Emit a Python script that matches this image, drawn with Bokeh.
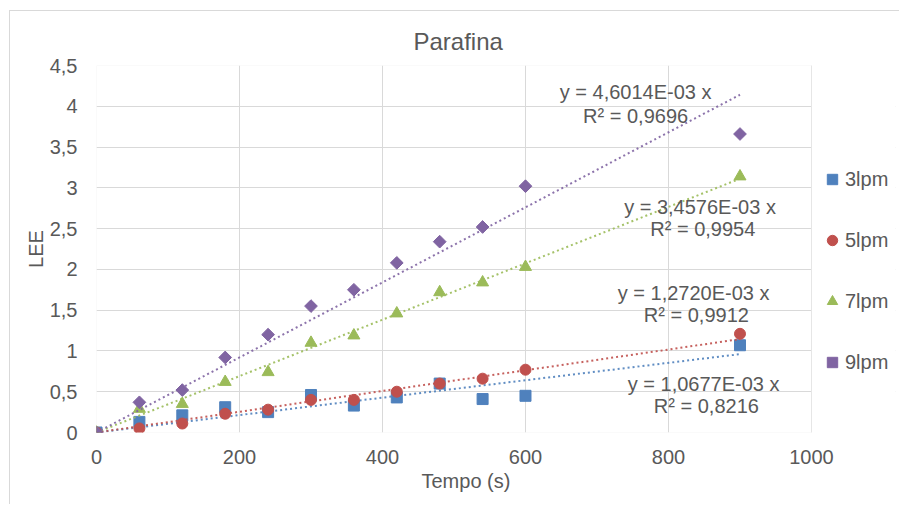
import math
from bokeh.plotting import figure
from bokeh.models import Legend, LegendItem, FixedTicker, ColumnDataSource, BoxAnnotation, Title
from bokeh.embed import file_html
from bokeh.resources import INLINE
from bokeh.core.properties import value

# ---- data ----
tempo = [0, 60, 120, 180, 240, 300, 360, 420, 480, 540, 600, 900]
lee_3lpm = [0, 0.13, 0.21, 0.31, 0.25, 0.46, 0.33, 0.43, 0.60, 0.41, 0.45, 1.07]
lee_5lpm = [0, 0.05, 0.11, 0.23, 0.28, 0.40, 0.40, 0.50, 0.60, 0.66, 0.77, 1.21]
lee_7lpm = [0, 0.29, 0.35, 0.62, 0.74, 1.10, 1.19, 1.46, 1.72, 1.84, 2.03, 3.14]
lee_9lpm = [0, 0.37, 0.52, 0.92, 1.20, 1.55, 1.75, 2.08, 2.34, 2.52, 3.02, 3.66]
series_names = ["3lpm", "5lpm", "7lpm", "9lpm"]
slopes = [1.0677e-3, 1.2720e-3, 3.4576e-3, 4.6014e-3]
slope_labels = ["y = 1,0677E-03  x", "y = 1,2720E-03  x", "y = 3,4576E-03  x", "y = 4,6014E-03 x"]
r2_labels = ["R² = 0,8216", "R² = 0,9912", "R² = 0,9954", "R² = 0,9696"]
trend_x = [0, 900]
x_ticks = [0, 200, 400, 600, 800, 1000]
y_ticks = [0, 0.5, 1, 1.5, 2, 2.5, 3, 3.5, 4, 4.5]
y_tick_labels = ["0", "0,5", "1", "1,5", "2", "2,5", "3", "3,5", "4", "4,5"]
X_MIN, X_MAX = 0, 1000
Y_MIN, Y_MAX = 0, 4.5

# ---- style / layout ----
colors = ["#4F81BD", "#C0504D", "#9BBB59", "#8064A2"]
markers = ["square", "circle", "triangle", "square"]
angles = [0, 0, 0, math.pi / 4]
sizes = [11, 11, 12, 9]
# label anchor positions (data coords): (x, y_eq, y_r2)
label_pos = [(853, 0.59, 0.33), (839, 1.71, 1.44), (848, 2.76, 2.50), (754, 4.17, 3.88)]
FONT = "Liberation Sans"
TXT = "#595959"
GRID = "#D9D9D9"
# the frame is widened to host the legend; the area right of X_MAX is masked
FRAME_EXTRA = 1.1175

p = figure(width=890, height=494, x_range=(X_MIN, X_MAX * FRAME_EXTRA), y_range=(Y_MIN, Y_MAX),
           output_backend="svg", toolbar_location=None,
           min_border_left=86, min_border_right=5, min_border_top=54, min_border_bottom=73,
           background_fill_color="white", border_fill_color="white",
           styles={"margin-left": "9px", "margin-top": "10px",
                   "border-left": "1px solid #D9D9D9", "border-top": "1px solid #D9D9D9"})

p.title.text = "Parafina"
p.title.align = "left"
p.title.offset = 317
p.title.text_font = FONT
p.title.text_font_size = "24px"
p.title.text_font_style = "normal"
p.title.text_color = TXT
p.title.standoff = 22

p.outline_line_color = None
p.xgrid.grid_line_color = GRID
p.ygrid.grid_line_color = GRID
p.xaxis.ticker = FixedTicker(ticks=x_ticks)
p.yaxis.ticker = FixedTicker(ticks=y_ticks)
p.yaxis.major_label_overrides = {t: l for t, l in zip(y_ticks, y_tick_labels)}
for ax in (p.xaxis[0], p.yaxis[0]):
    ax.axis_line_color = None
    ax.major_tick_line_color = None
    ax.minor_tick_line_color = None
    ax.major_label_text_font = FONT
    ax.major_label_text_font_size = "20px"
    ax.major_label_text_color = TXT
    ax.axis_label_text_font = FONT
    ax.axis_label_text_font_size = "20px"
    ax.axis_label_text_font_style = "normal"
    ax.axis_label_text_color = TXT
p.yaxis.axis_label = "LEE"
p.xaxis.major_label_standoff = 11
p.yaxis.major_label_standoff = 13
p.yaxis.axis_label_standoff = 0

# x axis title, placed below the tick labels (shifted right as in the reference)
xtitle = Title(text="Tempo (s)", align="left", offset=325, text_font=FONT, text_font_size="20px",
               text_font_style="normal", text_color=TXT, standoff=2)
p.add_layout(xtitle, "below")

# mask the grid beyond the plot area and draw the plot-area border
mask = BoxAnnotation(left=X_MAX, right=X_MAX * FRAME_EXTRA, bottom=Y_MIN, top=Y_MAX,
                     fill_color="white", fill_alpha=1, line_color=None, level="underlay")
p.add_layout(mask)
border = BoxAnnotation(left=X_MIN, right=X_MAX, bottom=Y_MIN, top=Y_MAX,
                       fill_alpha=0, line_color=GRID, line_width=1, level="underlay")
p.add_layout(border)

all_series = [lee_3lpm, lee_5lpm, lee_7lpm, lee_9lpm]
items = []
for name, ys, slope, col, mk, ang, sz, eq, r2, pos in zip(series_names, all_series, slopes, colors,
                                                       markers, angles, sizes, slope_labels,
                                                       r2_labels, label_pos):
    p.line(trend_x, [slope * x for x in trend_x], line_color=col, line_width=2,
           line_dash="2 3", line_alpha=0.9)
    r = p.scatter(tempo, ys, marker=mk, angle=ang, size=sz, fill_color=col, line_color=col)
    items.append(LegendItem(label=name, renderers=[r]))
    src = ColumnDataSource(dict(x=[pos[0], pos[0]], y=[pos[1], pos[2]], t=[eq, r2]))
    p.text(x="x", y="y", text="t", source=src, text_align="center", text_baseline="middle",
           text_font=value(FONT), text_font_size="20px", text_color=TXT)

legend = Legend(items=items, location=(723, 57), orientation="vertical",
                glyph_width=26, glyph_height=26, label_height=26, spacing=35,
                padding=0, margin=0, label_standoff=0,
                label_text_font=FONT, label_text_font_size="20px", label_text_color=TXT,
                border_line_color=None, background_fill_alpha=0)
p.add_layout(legend, "center")

open("out.html", "w").write(file_html(p, INLINE))
